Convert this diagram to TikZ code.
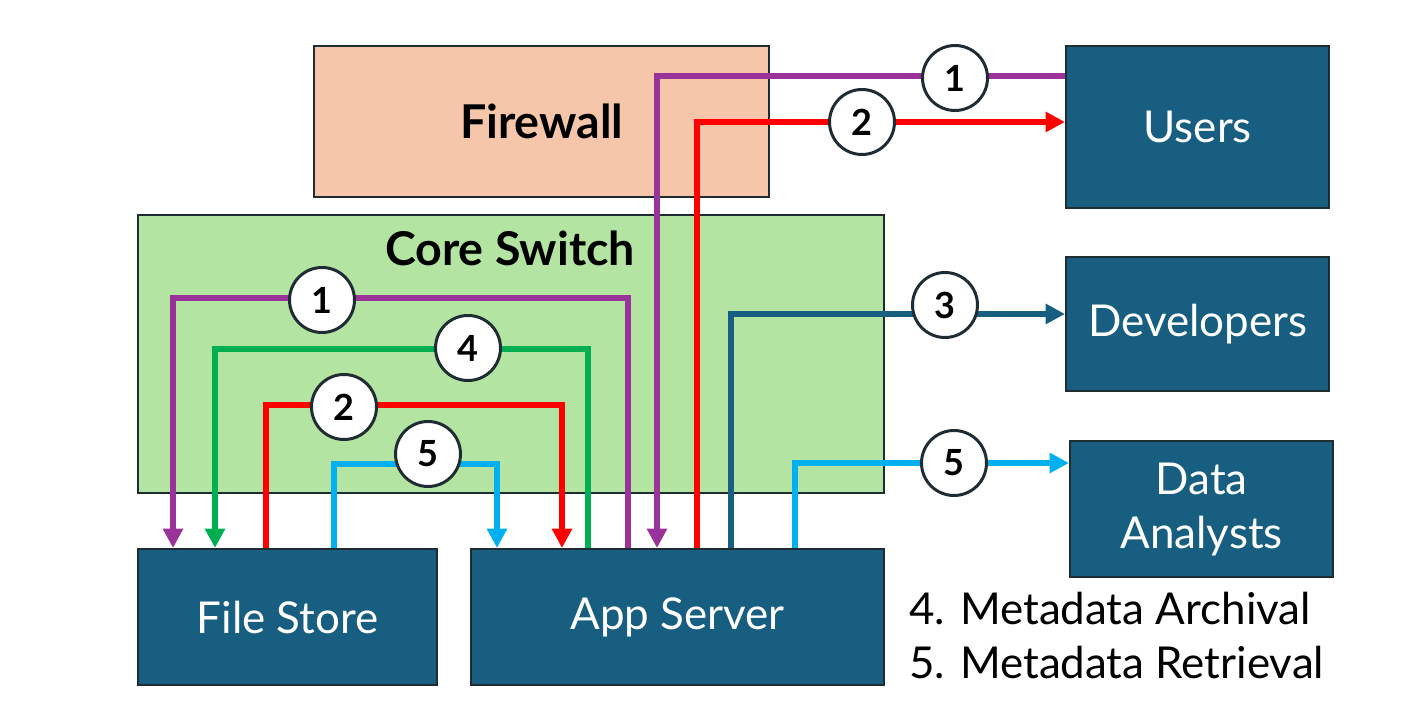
\documentclass[tikz,border=0pt]{standalone}
\usepackage{fontspec}
\setmainfont{Lato}
\usetikzlibrary{arrows.meta,positioning}

\definecolor{unitblue}{RGB}{24,94,128}
\definecolor{edge}{RGB}{32,44,52}
\definecolor{fwfill}{RGB}{245,198,170}
\definecolor{swfill}{RGB}{180,228,162}
\definecolor{purp}{RGB}{153,51,153}
\definecolor{redl}{RGB}{255,0,0}
\definecolor{greenl}{RGB}{0,176,80}
\definecolor{cyanl}{RGB}{0,176,240}

\tikzset{
  box/.style={draw=edge, line width=1.4pt, anchor=north west, inner sep=0pt},
  unit/.style={box, fill=unitblue, text=white, align=center,
    font=\fontsize{25}{30.6}\selectfont},
  zone/.style={box},
  title/.style={font=\fontsize{26.5}{30}\selectfont\bfseries},
  num/.style={circle, draw=edge, fill=white, line width=1.7pt,
    minimum size=1.3cm, inner sep=0pt, font=\fontsize{20.5}{24}\selectfont\bfseries},
  flow/.style={line width=3pt, -{Triangle[length=11pt,width=11pt]}},
  legend/.style={anchor=west, font=\fontsize{25}{30}\selectfont}
}

\begin{document}
\begin{tikzpicture}[x=0.02cm, y=-0.02cm]
  \useasboundingbox (0,0) rectangle (1410,719);

  % zones
  \node[zone, fill=fwfill, minimum width=9.1cm, minimum height=3.02cm] (firewall) at (313,45) {};
  \node[title] at (firewall.center) {Firewall};
  \node[zone, fill=swfill, minimum width=14.92cm, minimum height=5.56cm] (switch) at (137,214) {};
  \node[title] at (510,248) {Core Switch};

  % units
  \node[unit, minimum width=5.26cm, minimum height=3.24cm] (users) at (1065,45) {Users};
  \node[unit, minimum width=5.26cm, minimum height=2.68cm] (devs) at (1065,256) {Developers};
  \node[unit, minimum width=5.26cm, minimum height=2.72cm] (data) at (1069,440) {Data\\Analysts};
  \node[unit, minimum width=5.98cm, minimum height=2.72cm] (file) at (137,548) {File Store};
  \node[unit, minimum width=8.26cm, minimum height=2.72cm] (app) at (470,548) {App Server};

  % flows out of the switch
  \draw[flow, purp] (users.west |- 0,76) -| (657,0 |- app.north);
  \draw[flow, redl] (697,0 |- app.north) |- (users.west |- 0,122);
  \draw[flow, unitblue] (731,0 |- app.north) |- (devs.west |- 0,314);
  \draw[flow, cyanl] (795,0 |- app.north) |- (data.west |- 0,463);

  % flows inside the switch
  \draw[flow, purp] (628,0 |- app.north) |- (173,298) -- (173,0 |- file.north);
  \draw[flow, greenl] (588,0 |- app.north) |- (215,349) -- (215,0 |- file.north);
  \draw[flow, redl] (266,0 |- file.north) |- (562,405) -- (562,0 |- app.north);
  \draw[flow, cyanl] (334,0 |- file.north) |- (497,464) -- (497,0 |- app.north);

  % step numbers
  \node[num] (n1a) at (955,78) {1};
  \node[num] (n2a) at (862,122) {2};
  \node[num] (n3) at (945,305) {3};
  \node[num] (n5a) at (954,463) {5};
  \node[num] (n1b) at (322,300) {1};
  \node[num] (n4) at (468,348) {4};
  \node[num] (n2b) at (344,407) {2};
  \node[num] (n5b) at (428,454) {5};

  % legend
  \node[legend] (leg4) at (903,608) {4. Metadata Archival};
  \node[legend] (leg5) at (903,662) {5. Metadata Retrieval};
\end{tikzpicture}
\end{document}
